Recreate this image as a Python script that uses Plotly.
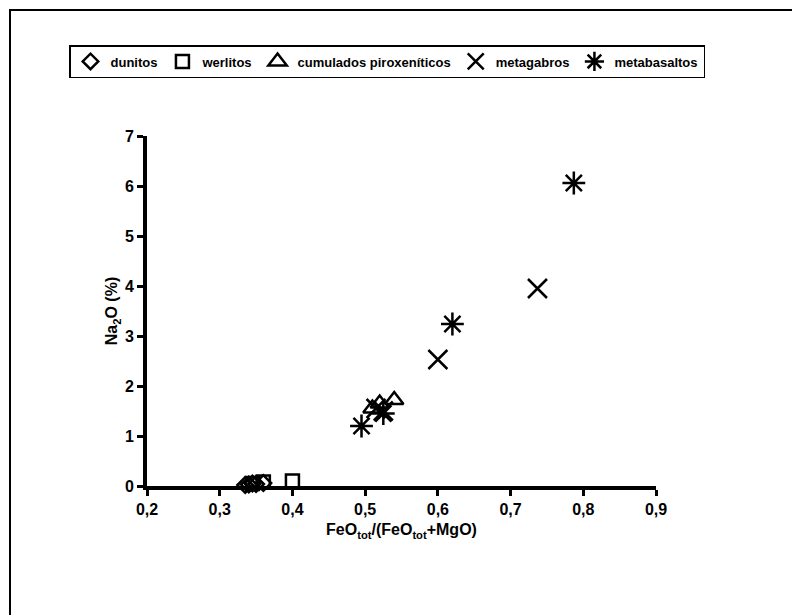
import plotly.graph_objects as go

# FeOtot/(FeOtot+MgO) vs Na2O (%)
dunitos_x = [0.335, 0.34, 0.345, 0.35, 0.36]
dunitos_y = [0.02, 0.03, 0.05, 0.04, 0.06]

werlitos_x = [0.345, 0.36, 0.40]
werlitos_y = [0.05, 0.08, 0.10]

cumulados_x = [0.51, 0.52, 0.54]
cumulados_y = [1.55, 1.65, 1.72]

metagabros_x = [0.515, 0.525, 0.60, 0.737]
metagabros_y = [1.55, 1.5, 2.53, 3.95]

metabasaltos_x = [0.495, 0.525, 0.62, 0.787]
metabasaltos_y = [1.2, 1.45, 3.24, 6.06]

series = [
    ("dunitos", dunitos_x, dunitos_y, "diamond-open", 12),
    ("werlitos", werlitos_x, werlitos_y, "square-open", 13),
    ("cumulados piroxeníticos", cumulados_x, cumulados_y, "triangle-up-open", 16),
    ("metagabros", metagabros_x, metagabros_y, "x-thin-open", 19),
    ("metabasaltos", metabasaltos_x, metabasaltos_y, "asterisk-open", 19),
]

fig = go.Figure()
for name, xs, ys, sym, size in series:
    fig.add_trace(go.Scatter(
        x=xs, y=ys, mode="markers", name=name,
        marker=dict(symbol=sym, size=size, color="black",
                    line=dict(color="black", width=2.5)),
        cliponaxis=False,
    ))

# page has an 8px body margin; plot area on page: x 147..656, y 136..486
OFF = 8
L, R, T, B = 147 - OFF, 656 - OFF, 136 - OFF, 486 - OFF

def px(x):
    return (x - OFF - L) / (R - L)

def py(y):
    return (B - (y - OFF)) / (B - T)

# outer frame
fig.add_shape(type="rect", xref="paper", yref="paper",
              x0=px(10), x1=px(812), y0=py(630), y1=py(10),
              line=dict(color="black", width=2))

fig.update_xaxes(
    range=[0.2, 0.9], dtick=0.1, tick0=0.2,
    showline=True, linecolor="black", linewidth=4,
    ticks="outside", ticklen=6, tickwidth=3, tickcolor="black",
    showgrid=False, zeroline=False,
    tickfont=dict(size=16, color="black"),
    title=dict(text="<b>FeO<sub>tot</sub>/(FeO<sub>tot</sub>+MgO)</b>",
               font=dict(size=16, color="black"), standoff=8),
)
fig.update_yaxes(
    range=[0, 7], dtick=1,
    showline=True, linecolor="black", linewidth=4,
    ticks="outside", ticklen=6, tickwidth=3, tickcolor="black",
    showgrid=False, zeroline=False,
    tickfont=dict(size=16, color="black"),
    title=dict(text="<b>Na<sub>2</sub>O (%)</b>",
               font=dict(size=16, color="black"), standoff=4),
)

fig.update_layout(
    width=800, height=615,
    margin=dict(l=L, r=800 - R, t=T, b=615 - B, autoexpand=False),
    plot_bgcolor="white", paper_bgcolor="white",
    separators=",.",
    font=dict(family="Liberation Sans, Arial", color="black", weight="bold"),
    legend=dict(
        orientation="h",
        x=px(69), y=py(45), xanchor="left", yanchor="top",
        bordercolor="black", borderwidth=1.5, bgcolor="white",
        font=dict(size=13, color="black"),
        itemwidth=30, tracegroupgap=0,
    ),
)

fig.write_html("out.html")
